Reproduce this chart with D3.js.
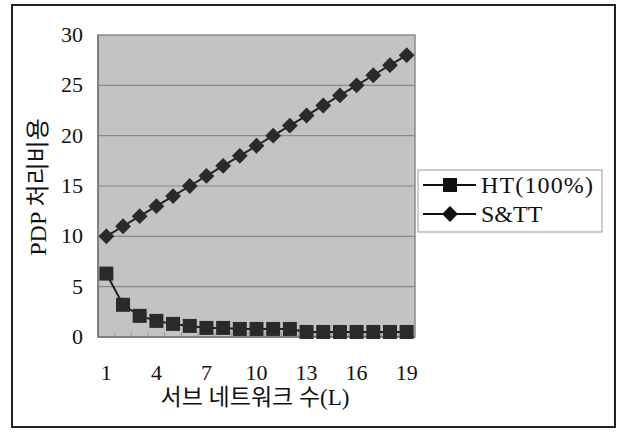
<html>
<head>
<meta charset="utf-8">
<script src="https://cdn.jsdelivr.net/npm/d3@7/dist/d3.min.js"></script>
<style>
body { margin: 0; background: #fff; }
text { font-family: "Liberation Serif", "DejaVu Serif", "Noto Sans CJK KR", serif; fill: #111; }
</style>
</head>
<body>
<script>
// sub network count L
var categories = [1,2,3,4,5,6,7,8,9,10,11,12,13,14,15,16,17,18,19];
var tickLabels = [1,4,7,10,13,16,19];
var yTicks = [0,5,10,15,20,25,30];
var htValues = [6.3,3.2,2.1,1.6,1.3,1.1,0.9,0.9,0.8,0.8,0.8,0.8,0.5,0.5,0.5,0.5,0.5,0.5,0.5];
var sttValues = [10,11,12,13,14,15,16,17,18,19,20,21,22,23,24,25,26,27,28];
var seriesNames = ["HT(100%)", "S&TT"];

var W = 623, H = 436;
var svg = d3.select('body').append('svg').attr('width', W).attr('height', H);

// outer frame
svg.append('rect').attr('x', 12).attr('y', 5).attr('width', 603).attr('height', 422)
	.attr('fill', '#fff').attr('stroke', '#222').attr('stroke-width', 2);

var pLeft = 98, pRight = 415, pTop = 35, pBottom = 337;
var x = d3.scaleBand().domain(categories).range([pLeft, pRight]);
var y = d3.scaleLinear().domain([0, 30]).range([pBottom, pTop]);

// plot area
svg.append('rect').attr('x', pLeft).attr('y', pTop).attr('width', pRight-pLeft).attr('height', pBottom-pTop)
	.attr('fill', '#c3c3c3').attr('stroke', '#8c8c8c').attr('stroke-width', 1.5);

svg.append('g').selectAll('line').data(yTicks.slice(1, -1)).enter().append('line')
	.attr('x1', pLeft).attr('x2', pRight)
	.attr('y1', function(d) { return y(d); }).attr('y2', function(d) { return y(d); })
	.attr('stroke', '#888').attr('stroke-width', 1.2);

// small category ticks
svg.append('g').selectAll('line').data(categories.slice(1)).enter().append('line')
	.attr('x1', function(d) { return x(d); }).attr('x2', function(d) { return x(d); })
	.attr('y1', pBottom).attr('y2', pBottom - 5)
	.attr('stroke', '#999').attr('stroke-width', 1);

svg.append('line').attr('x1', pLeft).attr('x2', pRight).attr('y1', pBottom).attr('y2', pBottom)
	.attr('stroke', '#777').attr('stroke-width', 1.5);
svg.append('line').attr('x1', pLeft).attr('x2', pLeft).attr('y1', pTop).attr('y2', pBottom)
	.attr('stroke', '#777').attr('stroke-width', 1.5);

// y tick labels
svg.append('g').selectAll('text').data(yTicks).enter().append('text')
	.attr('x', 83).attr('y', function(d) { return y(d) + 7; })
	.attr('text-anchor', 'end').style('font-size', '22px')
	.text(function(d) { return d; });

// x tick labels
var cx = function(d) { return x(d) + x.bandwidth() / 2; };
svg.append('g').selectAll('text').data(tickLabels).enter().append('text')
	.attr('x', cx).attr('y', 380)
	.attr('text-anchor', 'middle').style('font-size', '22px')
	.text(function(d) { return d; });

svg.append('text').attr('x', 255).attr('y', 405).attr('text-anchor', 'middle')
	.style('font-size', '23px').text('서브 네트워크 수(L)');

svg.append('text').attr('transform', 'translate(46,187) rotate(-90)').attr('text-anchor', 'middle')
	.style('font-size', '24px').text('PDP 처리비용');

// series
var line = d3.line().x(function(d, i) { return cx(categories[i]); }).y(function(d) { return y(d); });
svg.append('path').datum(sttValues).attr('d', line).attr('fill', 'none').attr('stroke', '#222').attr('stroke-width', 2);
svg.append('path').datum(htValues).attr('d', line).attr('fill', 'none').attr('stroke', '#222').attr('stroke-width', 2);

var diamond = d3.symbol().type(d3.symbolDiamond2).size(160);
svg.append('g').selectAll('path').data(sttValues).enter().append('path')
	.attr('d', diamond)
	.attr('transform', function(d, i) { return 'translate(' + cx(categories[i]) + ',' + y(d) + ')'; })
	.attr('fill', '#2a2a2a');

svg.append('g').selectAll('rect').data(htValues).enter().append('rect')
	.attr('x', function(d, i) { return cx(categories[i]) - 7; })
	.attr('y', function(d) { return y(d) - 7; })
	.attr('width', 14).attr('height', 14)
	.attr('fill', '#2a2a2a');

// legend
var lg = svg.append('g');
lg.append('rect').attr('x', 418).attr('y', 170).attr('width', 184).attr('height', 62)
	.attr('fill', '#fff').attr('stroke', '#999').attr('stroke-width', 1);
var ly = [185, 214];
seriesNames.forEach(function(name, i) {
	lg.append('line').attr('x1', 423).attr('x2', 476).attr('y1', ly[i]).attr('y2', ly[i])
		.attr('stroke', '#111').attr('stroke-width', 2);
	if (i == 0)
		lg.append('rect').attr('x', 443).attr('y', ly[i] - 7).attr('width', 14).attr('height', 14).attr('fill', '#111');
	else
		lg.append('path').attr('d', diamond).attr('transform', 'translate(450,' + ly[i] + ')').attr('fill', '#111');
	lg.append('text').attr('x', 481).attr('y', ly[i] + 8).style('font-size', '24px')
		.attr('textLength', i == 0 ? 112 : null)
		.text(name);
});
</script>
</body>
</html>
